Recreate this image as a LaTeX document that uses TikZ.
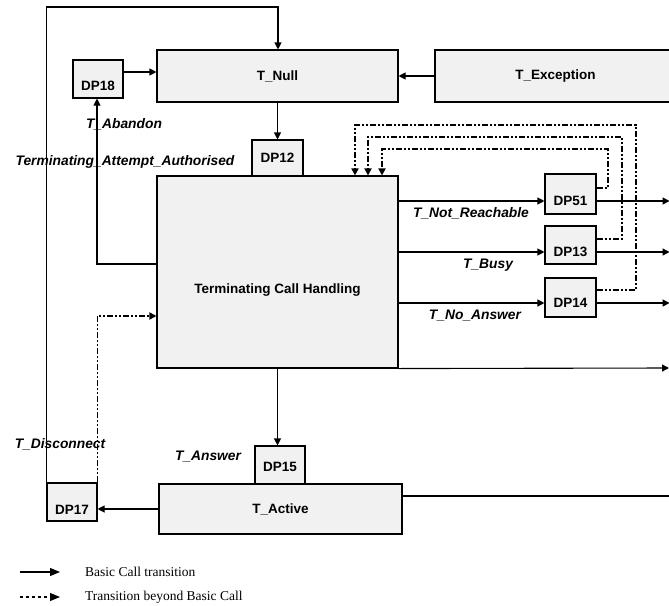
\documentclass[tikz,border=0pt]{standalone}
\usepackage{fontspec}
\setmainfont{Liberation Serif}
\setsansfont{Liberation Sans}
\usetikzlibrary{arrows.meta}
\definecolor{boxgray}{HTML}{F1F1F1}
\begin{document}
\begin{tikzpicture}[x=1pt,y=-1pt,
 box/.style={draw, line width=1.1pt, fill=boxgray, inner sep=0pt},
 lab/.style={font=\sffamily\bfseries\fontsize{13.5}{15}\selectfont, inner sep=0pt},
 ilab/.style={font=\sffamily\bfseries\itshape\fontsize{13.8}{16}\selectfont, inner sep=0pt},
 leg/.style={font=\rmfamily\fontsize{13.5}{15}\selectfont, inner sep=0pt},
 conn/.style={line width=1.1pt},
 arr/.style={conn, -{Triangle[length=7pt,width=7pt]}},
 legarr/.style={conn, -{Triangle[length=10pt,width=8pt]}},
 dd/.style={line width=1.7pt, dash pattern=on 6pt off 2pt on 2pt off 2pt on 2pt off 2pt},
 dpbox/.style={box, minimum width=50pt, minimum height=38pt},
]
\useasboundingbox (0,0) rectangle (669,605);
\clip (0,0) rectangle (669,605);

% boxes
\node[box, minimum width=241pt, minimum height=52pt, lab] (tnull) at (277.5,76) {T\_Null};
\node[box, minimum width=241pt, minimum height=52pt, lab] (texc) at (555.5,76) {T\_Exception};
\node[box, minimum width=51pt, minimum height=36pt, label={[lab]center:DP12}] (dp12) at (277.5,158) {};
\node[box, minimum width=241pt, minimum height=192pt] (tch) at (277.5,272) {};
\node[lab] (tchtxt) at (277.5,290) {Terminating Call Handling};
\node[dpbox, label={[lab,yshift=-7pt]center:DP18}] (dp18) at (98,79) {};
\node[dpbox, minimum width=51pt, minimum height=40pt, label={[lab,yshift=-7pt]center:DP51}] (dp51) at (570.5,194) {};
\node[dpbox, minimum width=51pt, label={[lab,yshift=-7pt]center:DP13}] (dp13) at (570.5,245) {};
\node[dpbox, minimum width=51pt, minimum height=39pt, label={[lab,yshift=-5.5pt]center:DP14}] (dp14) at (570.5,297.5) {};
\node[dpbox, label={[lab,yshift=-2pt]center:DP15}] (dp15) at (280,465) {};
\node[box, minimum width=243pt, minimum height=50pt, lab] (tact) at (280.5,509) {T\_Active};
\node[dpbox, label={[lab,yshift=-8pt]center:DP17}] (dp17) at (72,502) {};

% connectors
\coordinate (top) at (278,7);
\draw[arr] (dp17.north west) |- (top) -- (top |- tnull.north);
\draw[arr] (texc.west) -- (tnull.east);
\draw[arr] ([yshift=7pt]dp18.east) -- ([yshift=7pt]dp18.east -| tnull.west);
\draw[arr] (tnull.south) -- (dp12.north);
\draw[arr] ([yshift=8pt]tch.west) -| ([xshift=-1pt]dp18.south);
\draw[arr,dd] (dp17.north east) |- ([yshift=-44pt]tch.west);
\draw[arr] (tact.west) -- (tact.west -| dp17.east);
\draw[arr] (tch.south) -- (tch.south |- dp15.north);
\draw[conn] ([yshift=13pt]tact.east) -- ++(270,0);
\coordinate (e1) at (669,368);
\draw[arr] (tch.south east) -- (e1);

\draw[arr] ([yshift=-7pt]dp51.west -| tch.east) -- ([yshift=-7pt]dp51.west);
\draw[arr] ([yshift=-7pt]dp13.west -| tch.east) -- ([yshift=-7pt]dp13.west);
\draw[arr] ([yshift=-5.5pt]dp14.west -| tch.east) -- ([yshift=-5.5pt]dp14.west);
\draw[arr] ([yshift=-7pt]dp51.east) -- ++(73,0);
\draw[arr] ([yshift=-7pt]dp13.east) -- ++(73,0);
\draw[arr] ([yshift=-5.5pt]dp14.east) -- ++(73,0);

\coordinate (fa) at (382,149);
\coordinate (fb) at (368,137);
\coordinate (fc) at (355,125);
\draw[arr,dd] ([yshift=6pt]dp51.east) -| (608,149) -- (fa) -- (fa |- tch.north);
\draw[arr,dd] ([yshift=6pt]dp13.east) -| (622,137) -- (fb) -- (fb |- tch.north);
\draw[arr,dd] ([yshift=7.5pt]dp14.east) -| (636,125) -- (fc) -- (fc |- tch.north);

% labels
\node[ilab] (l_ab) at (124,124) {T\_Abandon};
\node[ilab] (l_taa) at (125,162) {Terminating\_Attempt\_Authorised};
\node[ilab] (l_disc) at (60,444) {T\_Disconnect};
\node[ilab] (l_ans) at (208,457) {T\_Answer};
\node[ilab] (l_nr) at (471,213) {T\_Not\_Reachable};
\node[ilab] (l_busy) at (488,265) {T\_Busy};
\node[ilab] (l_na) at (475,316) {T\_No\_Answer};

% legend
\coordinate (g1a) at (20,572);
\coordinate (g1b) at (60,572);
\coordinate (g2a) at (20,597);
\coordinate (g2b) at (60,597);
\draw[legarr] (g1a) -- (g1b);
\draw[legarr, dash pattern=on 3pt off 3pt] (g2a) -- (g2b);
\node[leg, anchor=west] (g1t) at (85,572) {Basic Call transition};
\node[leg, anchor=west] (g2t) at (85,597) {Transition beyond Basic Call};
\end{tikzpicture}
\end{document}
